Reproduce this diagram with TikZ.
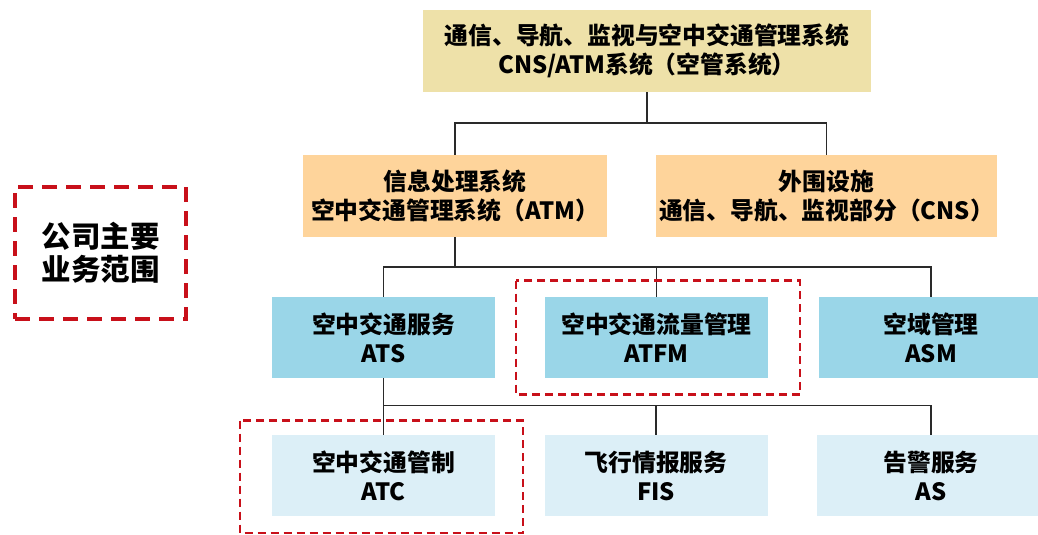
\documentclass[tikz,border=0pt]{standalone}
\usepackage{fontspec}
\setmainfont{Noto Sans CJK SC}
\definecolor{khaki}{HTML}{EEE1A9}
\definecolor{peach}{HTML}{FED49B}
\definecolor{midblue}{HTML}{9AD6E8}
\definecolor{paleblue}{HTML}{DCEFF7}
\definecolor{hlred}{HTML}{C8101A}
\definecolor{linegray}{HTML}{2A2A2A}
\begin{document}
\begin{tikzpicture}[x=1pt,y=-1pt,
  box/.style={rectangle, inner sep=0pt, align=center, font=\bfseries\fontsize{23.8}{29}\selectfont, text=black},
  conn/.style={draw=linegray, line width=1.6pt},
  hl/.style={draw=hlred, line width=2.2pt, dash pattern=on 8pt off 5pt},
  bighl/.style={draw=hlred, line width=3.5pt, dash pattern=on 15pt off 9pt}]
\clip (0,0) rectangle (1038,535);
\fill[white] (0,0) rectangle (1038,535);
% boxes
\node[box, fill=khaki, minimum width=448pt, minimum height=82pt] (top) at (647,51) {通信、导航、监视与空中交通管理系统\\CNS/ATM系统（空管系统）};
\node[box, fill=peach, minimum width=304pt, minimum height=82pt] (atm) at (455,196) {信息处理系统\\空中交通管理系统（ATM）};
\node[box, fill=peach, minimum width=341pt, minimum height=82pt] (cns) at (826.5,196) {外围设施\\通信、导航、监视部分（CNS）};
\node[box, fill=midblue, minimum width=223pt, minimum height=81pt] (ats) at (383.5,337.5) {空中交通服务\\ATS};
\node[box, fill=midblue, minimum width=223pt, minimum height=81pt] (atfm) at (656.5,337.5) {空中交通流量管理\\ATFM};
\node[box, fill=midblue, minimum width=224pt, minimum height=81pt] (asm) at (931,337.5) {空域管理\\ASM};
\node[box, fill=paleblue, minimum width=223pt, minimum height=81pt] (atc) at (383.5,475.5) {空中交通管制\\ATC};
\node[box, fill=paleblue, minimum width=223pt, minimum height=81pt] (fis) at (656,475.5) {飞行情报服务\\FIS};
\node[box, fill=paleblue, minimum width=228pt, minimum height=81pt] (as) at (931,475.5) {告警服务\\AS};
% bus coordinates
\coordinate (b1) at (647,123);
\coordinate (b2) at (647,267);
\coordinate (b3) at (647,405.5);
% connectors
\draw[conn] (top.south) -- (top.south |- b1);
\draw[conn] (atm.north) |- (cns.north |- b1) -- (cns.north);
\draw[conn] (atm.south) -- (atm.south |- b2);
\draw[conn] (ats.north) |- (asm.north |- b2) -- (asm.north);
\draw[conn] (atfm.north) -- (atfm.north |- b2);
\draw[conn] (ats.south) -- (atc.north);
\draw[conn] (ats.south |- b3) -- (as.north |- b3) -- (as.north);
\draw[conn] (fis.north) -- (fis.north |- b3);
% highlight frames
\draw[hl] (516,280.5) rectangle (800,394.5);
\draw[hl] (240,420.5) rectangle (523,533);
\node[bighl, minimum width=171pt, minimum height=132pt, align=center, font=\bfseries\fontsize{29.5}{33}\selectfont] (scope) at (100.5,253) {公司主要\\业务范围};
\end{tikzpicture}
\end{document}
